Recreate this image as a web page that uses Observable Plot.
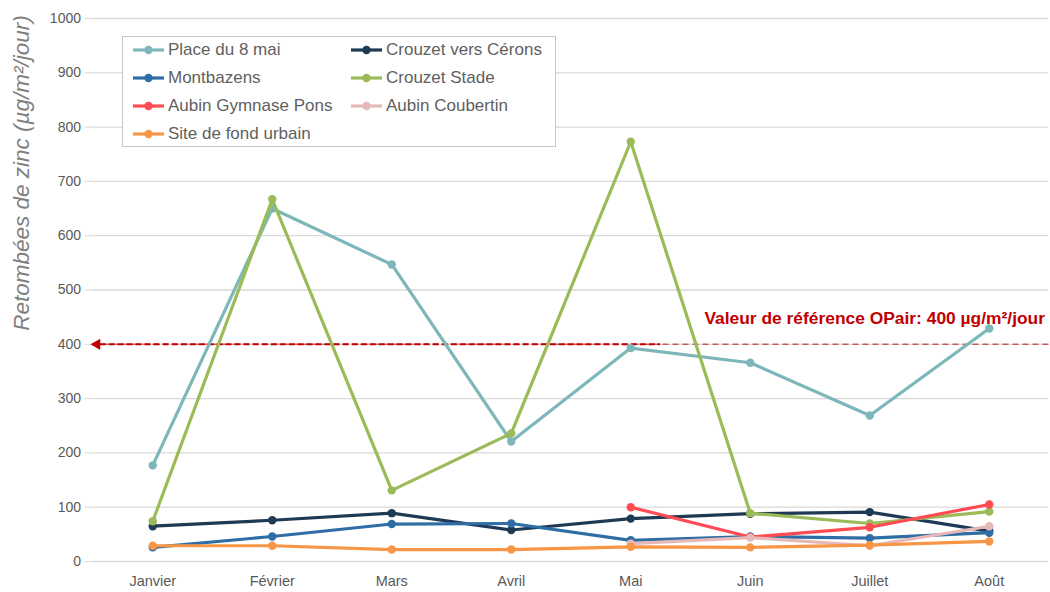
<!DOCTYPE html>
<html>
<head>
<meta charset="utf-8">
<script src="https://cdn.jsdelivr.net/npm/d3@7"></script>
<script src="https://cdn.jsdelivr.net/npm/@observablehq/plot@0.6"></script>
<style>
  html, body { margin: 0; padding: 0; background: #fff; }
  #wrap { position: relative; width: 1050px; height: 592px; }
  #legend {
    position: absolute; left: 122px; top: 36px; width: 434px; height: 111px;
    border: 1px solid #c6c6c6; background: #fff; box-sizing: border-box;
    font-family: "Liberation Sans", Arial, sans-serif; font-size: 17px; color: #5f5f5f;
  }
  .item { position: absolute; display: flex; align-items: center; height: 20px; white-space: nowrap; }
  .item svg { margin-right: 3px; }
</style>
</head>
<body>
<div id="wrap"></div>
<script>
const months = ["Janvier", "Février", "Mars", "Avril", "Mai", "Juin", "Juillet", "Août"];
const seriesNames = ["Place du 8 mai", "Crouzet vers Cérons", "Montbazens", "Crouzet Stade",
                     "Aubin Gymnase Pons", "Aubin Coubertin", "Site de fond urbain"];
const seriesColors = ["#7db7b9", "#1f3a54", "#2e6da5", "#9bbb59", "#ff4b52", "#e6b9b8", "#f79646"];

const placeDu8Mai      = [177, 650, 547, 221, 393, 366, 269, 429];
const crouzetCerons    = [65, 76, 89, 58, 79, 88, 91, 56];
const montbazens       = [26, 46, 69, 70, 39, 46, 43, 53];
const crouzetStade     = [74, 667, 131, 236, 773, 89, 70, 92];
const aubinGymnasePons = [null, null, null, null, 100, 45, 63, 105];
const aubinCoubertin   = [null, null, null, null, 33, 44, 29, 65];
const fondUrbain       = [29, 29, 22, 22, 27, 26, 30, 37];

const seriesValues = [placeDu8Mai, crouzetCerons, montbazens, crouzetStade,
                      aubinGymnasePons, aubinCoubertin, fondUrbain];

const refValue = 400;
const refLabel = "Valeur de référence OPair: 400 µg/m²/jour";
const yTicks = [0, 100, 200, 300, 400, 500, 600, 700, 800, 900, 1000];
const yTitle = "Retombées de zinc (µg/m²/jour)";

const font = "'Liberation Sans', Arial, sans-serif";

const marks = [
  Plot.gridY(yTicks, {stroke: "#d9d9d9", strokeOpacity: 1, strokeWidth: 1.3}),
  Plot.axisY(yTicks, {tickSize: 8, tickPadding: 4, stroke: "#d9d9d9", strokeOpacity: 1, tickFormat: d => String(d),
    fill: "#595959", fontSize: 14, fontFamily: font, label: null}),
  Plot.axisX(d3.range(months.length), {tickSize: 0, tickPadding: 14, tickFormat: i => months[i],
    fill: "#595959", fontSize: 14.5, fontFamily: font, label: null}),
  // reference line (light, full width)
  Plot.ruleY([refValue], {stroke: "#c00000", strokeOpacity: 0.6, strokeWidth: 1.6, strokeDasharray: "6,4"}),
  // dark arrow part
  Plot.ruleY([refValue], {x1: -0.44, x2: 4.25, stroke: "#c00000", strokeWidth: 2, strokeDasharray: "6,3"}),
  Plot.dot([refValue], {x: -0.5, y: d => d, dx: 4, symbol: "triangle", rotate: -90, r: 4.2, fill: "#c00000", stroke: "none"}),
  Plot.text([refLabel], {x: 7.5, y: refValue, dx: -4, dy: -26, textAnchor: "end", fill: "#c00000",
    fontSize: 17.4, fontWeight: "bold", fontFamily: font}),
];

seriesNames.forEach((name, s) => {
  const data = months.map((m, i) => ({i, v: seriesValues[s][i]})).filter(d => d.v != null);
  marks.push(Plot.line(data, {x: "i", y: "v", stroke: seriesColors[s], strokeWidth: 3.2, curve: "linear"}));
  marks.push(Plot.dot(data, {x: "i", y: "v", r: 4.2, fill: seriesColors[s], stroke: "none"}));
});

const chart = Plot.plot({
  width: 1050,
  height: 592,
  marginLeft: 92.5,
  marginRight: 1.5,
  marginTop: 18,
  marginBottom: 31,
  x: {type: "linear", domain: [-0.5, 7.5]},
  y: {domain: [0, 1000]},
  style: {background: "#fff", overflow: "visible"},
  marks
});

const svg = d3.select(chart);
// y axis title
svg.append("text")
  .attr("transform", "translate(29,173) rotate(-90)")
  .attr("text-anchor", "middle")
  .attr("font-family", font)
  .attr("font-style", "italic")
  .attr("font-size", 22.5)
  .attr("fill", "#7f7f7f")
  .text(yTitle);

const wrap = document.getElementById("wrap");
wrap.appendChild(chart);

// legend
const legend = document.createElement("div");
legend.id = "legend";
const pos = [[9, 3], [227, 3], [9, 31], [227, 31], [9, 59], [227, 59], [9, 87]];
seriesNames.forEach((name, s) => {
  const it = document.createElement("div");
  it.className = "item";
  it.style.left = pos[s][0] + "px";
  it.style.top = pos[s][1] + "px";
  it.innerHTML = `<svg width="33" height="12"><line x1="1" x2="32" y1="6" y2="6" stroke="${seriesColors[s]}" stroke-width="3.2"/><circle cx="16.5" cy="6" r="4.2" fill="${seriesColors[s]}"/></svg><span></span>`;
  it.querySelector("span").textContent = name;
  legend.appendChild(it);
});
wrap.appendChild(legend);
</script>
</body>
</html>
